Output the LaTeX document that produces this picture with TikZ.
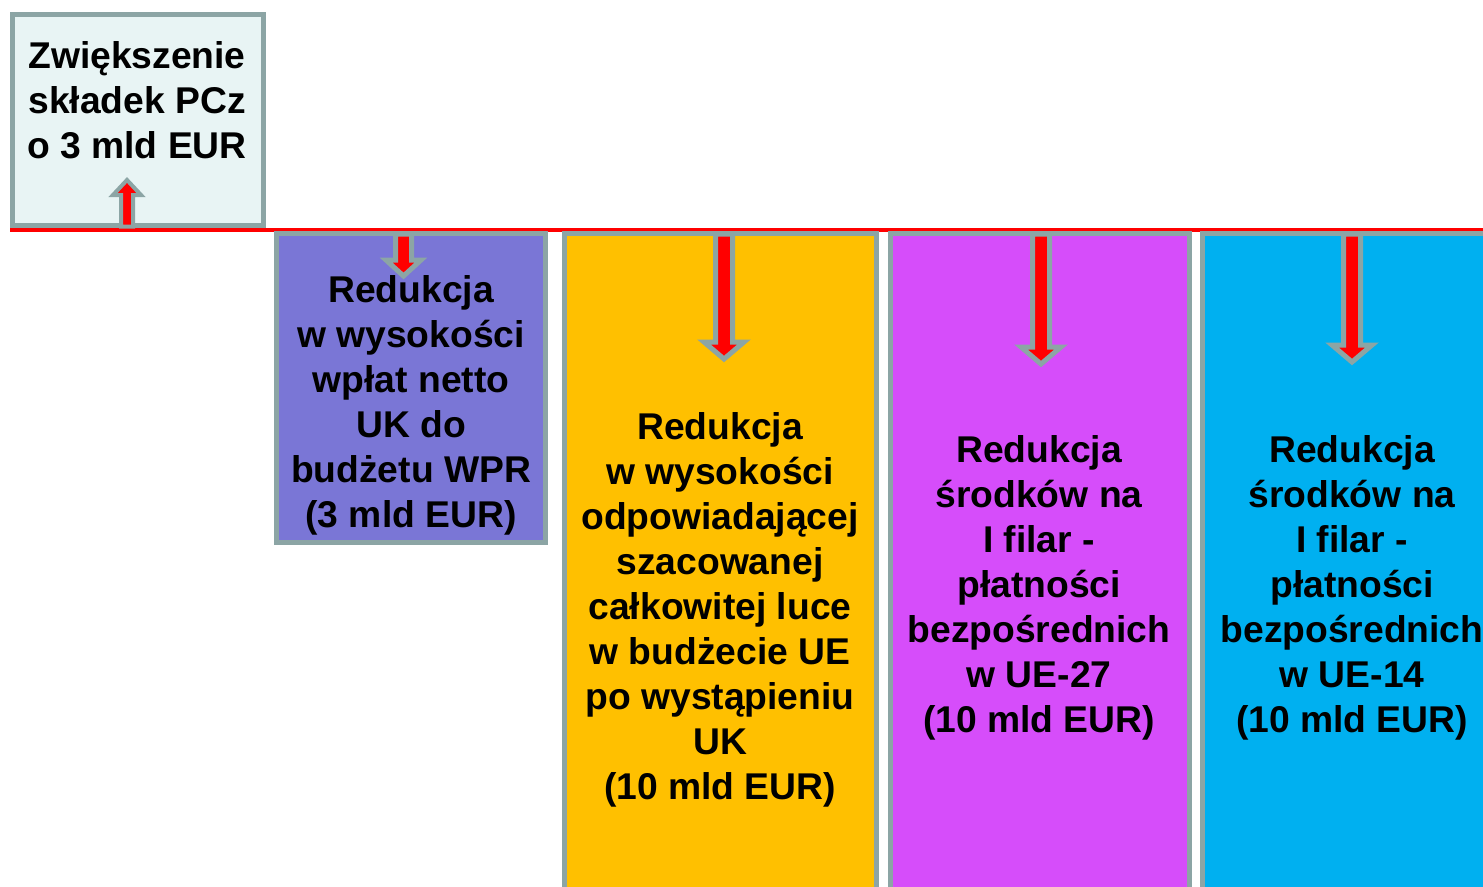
\documentclass[tikz,border=0pt]{standalone}
\usepackage{fontspec}
\setmainfont{Liberation Sans}
\definecolor{edgegray}{RGB}{140,165,165}
\definecolor{paleteal}{RGB}{232,244,244}
\definecolor{cutpurple}{RGB}{122,118,214}
\definecolor{cutorange}{RGB}{255,192,0}
\definecolor{cutmagenta}{RGB}{214,77,250}
\definecolor{cutcyan}{RGB}{0,176,240}
\definecolor{arrowred}{RGB}{255,0,0}
\tikzset{
  panel/.style={draw=edgegray, line width=1mm, rectangle, inner sep=0pt},
  paneltext/.style={align=center, inner sep=0pt, font=\fontsize{21.2}{25.6}\selectfont\bfseries},
  blockarrow/.style={draw=edgegray, line width=1mm, fill=arrowred, line join=miter},
  baseline/.style={draw=arrowred, line width=0.8mm}
}
\begin{document}
\begin{tikzpicture}[x=0.02cm, y=-0.02cm]
\clip (0,0) rectangle (1483,886);
\fill[white] (0,0) rectangle (1483,886);

% Panele
\node[panel, fill=paleteal, minimum width=50.4mm, minimum height=42.4mm] (boxUp) at (138,120) {};
\coordinate (lineL) at (10,230);
\coordinate (lineR) at (1483,230);
\draw[baseline] (lineL) -- (lineR);
\node[panel, fill=cutpurple, minimum width=53.8mm, minimum height=61.8mm] (boxWpr) at (411,388) {};
\node[panel, fill=cutorange, minimum width=62.6mm, minimum height=133.3mm] (boxUe) at (720.5,566.75) {};
\node[panel, fill=cutmagenta, minimum width=59.9mm, minimum height=133.3mm] (boxEu27) at (1040.25,566.75) {};
\node[panel, fill=cutcyan, minimum width=59.5mm, minimum height=133.3mm] (boxEu14) at (1351.25,566.75) {};

% Strzalki
\draw[blockarrow, line width=0.8mm] (121,226.5) -- (121,195) -- (113,195) -- (127,180) -- (141,195) -- (133,195) -- (133,226.5) -- cycle;
\draw[blockarrow] (395.5,234) -- (395.5,260) -- (386,260) -- (403.5,276) -- (421,260) -- (411.5,260) -- (411.5,234) -- cycle;
\draw[blockarrow] (715.5,234) -- (715.5,342) -- (704,342) -- (724,359) -- (744,342) -- (732.5,342) -- (732.5,234) -- cycle;
\draw[blockarrow] (1032.5,234) -- (1032.5,347) -- (1021,347) -- (1041,364) -- (1061,347) -- (1049.5,347) -- (1049.5,234) -- cycle;
\draw[blockarrow] (1343.5,234) -- (1343.5,345) -- (1332,345) -- (1352,362) -- (1372,345) -- (1360.5,345) -- (1360.5,234) -- cycle;

% Teksty
\node[paneltext] (txtUp) at (137,100) {Zwiększenie\\składek PCz\\o 3 mld EUR};
\node[paneltext] (txtWpr) at (411,405) {Redukcja\\w wysokości\\wpłat netto\\UK do\\budżetu WPR\\(3 mld EUR)};
\node[paneltext] (txtUe) at (720,610) {Redukcja\\w wysokości\\odpowiadającej\\szacowanej\\całkowitej luce\\w budżecie UE\\po wystąpieniu\\UK\\(10 mld EUR)};
\node[paneltext] (txtEu27) at (1039,588) {Redukcja\\środków na\\I filar -\\płatności\\bezpośrednich\\w UE-27\\(10 mld EUR)};
\node[paneltext] (txtEu14) at (1352,588) {Redukcja\\środków na\\I filar -\\płatności\\bezpośrednich\\w UE-14\\(10 mld EUR)};

\end{tikzpicture}
\end{document}
